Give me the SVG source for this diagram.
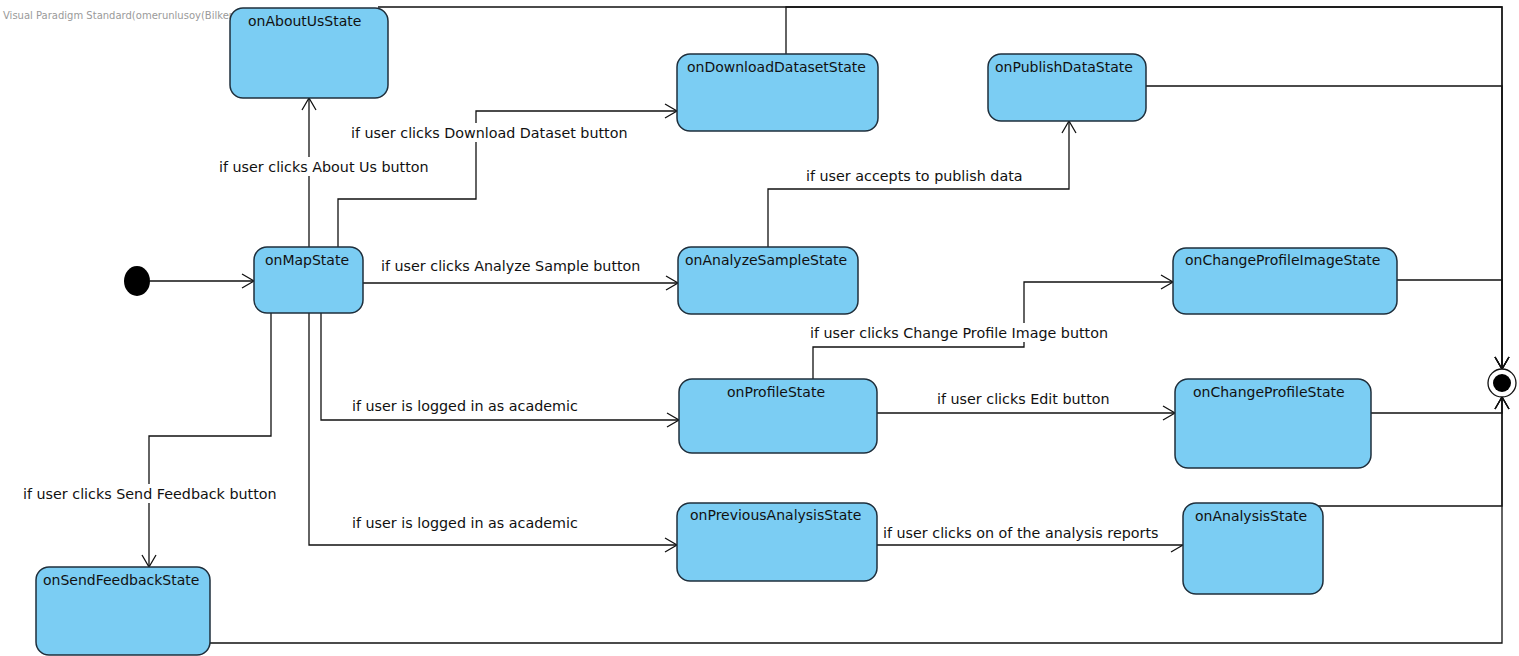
<svg xmlns="http://www.w3.org/2000/svg" width="1519" height="656" viewBox="0 0 1519 656">
<defs>
<style>
.node{fill:#7BCDF3;stroke:#1F2F3C;stroke-width:1.5}
.title{font-family:"DejaVu Sans",sans-serif;font-size:14px;fill:#111}
.lbl{font-family:"DejaVu Sans",sans-serif;font-size:14.3px;fill:#111}
.wm{font-family:"DejaVu Sans",sans-serif;font-size:10px;fill:#9a9a9a}
.c{fill:none;stroke:#111;stroke-width:1.3}
.bg{fill:#fff}
</style>
<marker id="arr" markerUnits="userSpaceOnUse" markerWidth="16" markerHeight="16" refX="13" refY="8" orient="auto">
<path d="M1,1 L13,8 L1,15" fill="none" stroke="#111" stroke-width="1.3"/>
</marker>
<marker id="half" markerUnits="userSpaceOnUse" markerWidth="16" markerHeight="16" refX="13" refY="8" orient="auto">
<path d="M13,8 L1,15" fill="none" stroke="#111" stroke-width="1.3"/>
</marker>
</defs>
<rect width="1519" height="656" fill="#fff"/>
<text class="wm" x="3" y="19">Visual Paradigm Standard(omerunlusoy(Bilkent Univ.))</text>

<g id="connectors">
<path class="c" d="M150,281 H254" marker-end="url(#arr)"/>
<path class="c" d="M309,247 V98" marker-end="url(#arr)"/>
<path class="c" d="M338,247 V199 H476 V111 H677" marker-end="url(#arr)"/>
<path class="c" d="M363,283 H678" marker-end="url(#arr)"/>
<path class="c" d="M768,247 V189 H1069 V121" marker-end="url(#arr)"/>
<path class="c" d="M321,313 V420 H679" marker-end="url(#arr)"/>
<path class="c" d="M309,313 V545 H677" marker-end="url(#arr)"/>
<path class="c" d="M271,313 V436 H149 V567" marker-end="url(#arr)"/>
<path class="c" d="M813,379 V347 H1024 V282 H1173" marker-end="url(#arr)"/>
<path class="c" d="M877,413 H1175" marker-end="url(#arr)"/>
<path class="c" d="M877,545 H1183" marker-end="url(#half)"/>
<path class="c" d="M378,7 H1502 V369" marker-end="url(#arr)"/>
<path class="c" d="M786,54 V7 H1502 V369" marker-end="url(#arr)"/>
<path class="c" d="M1146,86 H1502 V369" marker-end="url(#arr)"/>
<path class="c" d="M1397,280 H1502 V369" marker-end="url(#arr)"/>
<path class="c" d="M1371,413 H1502 V397" marker-end="url(#arr)"/>
<path class="c" d="M1318,506 H1502 V397" marker-end="url(#arr)"/>
<path class="c" d="M210,643 H1502 V397" marker-end="url(#arr)"/>

<rect class="bg" x="217" y="157" width="218" height="19"/>
<text class="lbl" x="219" y="172">if user clicks About Us button</text>
<rect class="bg" x="349" y="123" width="284" height="19"/>
<text class="lbl" x="351" y="138">if user clicks Download Dataset button</text>
<text class="lbl" x="381" y="271">if user clicks Analyze Sample button</text>
<text class="lbl" x="806" y="181">if user accepts to publish data</text>
<rect class="bg" x="808" y="323" width="306" height="19"/>
<text class="lbl" x="810" y="338">if user clicks Change Profile Image button</text>
<text class="lbl" x="352" y="411">if user is logged in as academic</text>
<text class="lbl" x="937" y="404">if user clicks Edit button</text>
<rect class="bg" x="21" y="484" width="259" height="19"/>
<text class="lbl" x="23" y="499">if user clicks Send Feedback button</text>
<text class="lbl" x="352" y="528">if user is logged in as academic</text>
<text class="lbl" x="883" y="538">if user clicks on of the analysis reports</text>
</g>

<g id="initial"><ellipse cx="137" cy="281" rx="13" ry="15" fill="#000"/></g>
<g id="final"><circle cx="1502" cy="383" r="14" fill="#fff" stroke="#111" stroke-width="1.3"/><circle cx="1502" cy="383" r="9" fill="#000"/></g>

<g id="onAboutUsState"><rect class="node" x="230" y="8" width="158" height="90" rx="13"/><text class="title" x="248" y="26">onAboutUsState</text></g>
<g id="onDownloadDatasetState"><rect class="node" x="677" y="54" width="201" height="77" rx="13"/><text class="title" x="687" y="72">onDownloadDatasetState</text></g>
<g id="onPublishDataState"><rect class="node" x="988" y="54" width="158" height="67" rx="13"/><text class="title" x="995" y="72">onPublishDataState</text></g>
<g id="onMapState"><rect class="node" x="254" y="247" width="109" height="66" rx="13"/><text class="title" x="265" y="265">onMapState</text></g>
<g id="onAnalyzeSampleState"><rect class="node" x="678" y="247" width="180" height="67" rx="13"/><text class="title" x="685" y="265">onAnalyzeSampleState</text></g>
<g id="onChangeProfileImageState"><rect class="node" x="1173" y="248" width="224" height="66" rx="13"/><text class="title" x="1185" y="265">onChangeProfileImageState</text></g>
<g id="onProfileState"><rect class="node" x="679" y="379" width="198" height="74" rx="13"/><text class="title" x="727" y="397">onProfileState</text></g>
<g id="onChangeProfileState"><rect class="node" x="1175" y="379" width="196" height="89" rx="13"/><text class="title" x="1193" y="397">onChangeProfileState</text></g>
<g id="onPreviousAnalysisState"><rect class="node" x="677" y="503" width="200" height="78" rx="13"/><text class="title" x="690" y="520">onPreviousAnalysisState</text></g>
<g id="onAnalysisState"><rect class="node" x="1183" y="503" width="140" height="91" rx="13"/><text class="title" x="1195" y="521">onAnalysisState</text></g>
<g id="onSendFeedbackState"><rect class="node" x="36" y="567" width="174" height="88" rx="13"/><text class="title" x="43" y="585">onSendFeedbackState</text></g>
</svg>
